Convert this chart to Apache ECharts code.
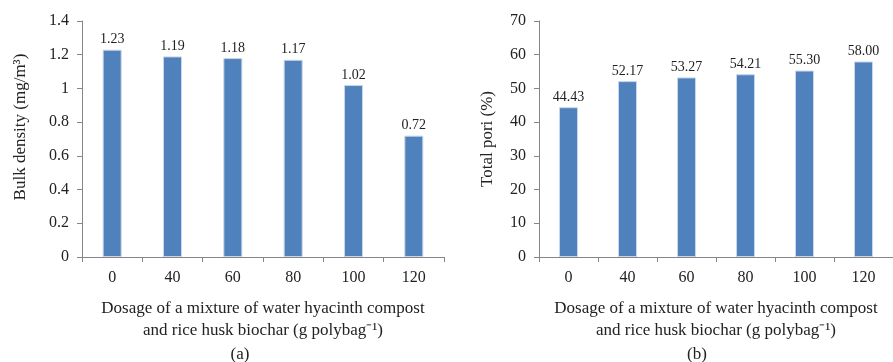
<!DOCTYPE html>
<html><head><meta charset="utf-8">
<script src="https://cdn.jsdelivr.net/npm/echarts@6/dist/echarts.min.js"></script>
<style>html,body{margin:0;padding:0;background:#fff}#c{width:893px;height:362px}</style>
</head><body><div id="c"></div>
<script>
const categories = ['0','40','60','80','100','120'];
const bulkDensity = [1.23, 1.19, 1.18, 1.17, 1.02, 0.72];
const bulkLabels = ['1.23','1.19','1.18','1.17','1.02','0.72'];
const totalPori = [44.43, 52.17, 53.27, 54.21, 55.30, 58.00];
const poriLabels = ['44.43','52.17','53.27','54.21','55.30','58.00'];

const FONT = '"Liberation Serif", "Times New Roman", serif';
const axisColor = '#868686';
const textColor = '#222';
const barColor = '#4F81BD';

function xAxis(idx){
  return {
    type:'category', gridIndex:idx, data:categories,
    axisLine:{lineStyle:{color:axisColor}},
    axisTick:{show:true, length:5, alignWithLabel:false, lineStyle:{color:axisColor}},
    axisLabel:{fontFamily:FONT, fontSize:16, color:textColor, margin:13},
    name:'Dosage of a mixture of water hyacinth compost\nand rice husk biochar (g polybag\u207B\u00B9)',
    nameLocation:'middle', nameGap:41,
    nameTextStyle:{fontFamily:FONT, fontSize:17, color:textColor, lineHeight:22}
  };
}
function yAxis(idx, max, interval, name, nameGap, fontSize, padding){
  return {
    type:'value', gridIndex:idx, min:0, max:max, interval:interval,
    splitLine:{show:false},
    axisLine:{show:true, lineStyle:{color:axisColor}},
    axisTick:{show:true, length:5, lineStyle:{color:axisColor}},
    axisLabel:{fontFamily:FONT, fontSize:16, color:textColor, margin:13},
    name:name, nameLocation:'middle', nameGap:nameGap,
    nameTextStyle:{fontFamily:FONT, fontSize:fontSize, color:textColor, padding:padding}
  };
}
function series(idx, data, labels){
  return {
    type:'bar', xAxisIndex:idx, yAxisIndex:idx, data:data, barWidth:19,
    itemStyle:{color:barColor, borderColor:'#c9d6ea', borderWidth:1},
    label:{show:true, position:'top', distance:3, fontFamily:FONT, fontSize:14, color:textColor,
      formatter:p=>labels[p.dataIndex]}
  };
}
const chart = echarts.init(document.getElementById('c'));
chart.setOption({
  animation:false,
  title:[
    {text:'(a)', left:235, top:341, textAlign:'center', textStyle:{fontFamily:FONT, fontSize:17, fontWeight:'normal', color:textColor}},
    {text:'(b)', left:692, top:341, textAlign:'center', textStyle:{fontFamily:FONT, fontSize:17, fontWeight:'normal', color:textColor}}
  ],
  grid:[
    {left:82, top:21, width:362, height:236},
    {left:539, top:21, width:354, height:236}
  ],
  xAxis:[xAxis(0), xAxis(1)],
  yAxis:[
    yAxis(0,1.4,0.2,'Bulk density (mg/m\u00B3)',53,17,[0,0,0,24]),
    yAxis(1,70,10,'Total pori (%)',43,17,[0,0,0,0])
  ],
  series:[series(0,bulkDensity,bulkLabels), series(1,totalPori,poriLabels)]
});
</script></body></html>
